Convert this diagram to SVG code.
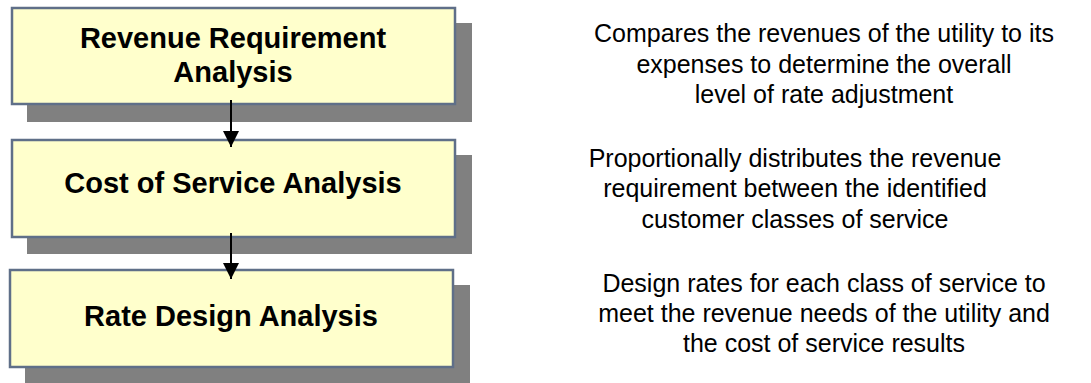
<svg xmlns="http://www.w3.org/2000/svg" width="1091" height="383" viewBox="0 0 1091 383">
<defs>
<style>
.shadow{fill:#808080}
.box{fill:#FFFFCC;stroke:#5F6F88;stroke-width:2.5}
.t{font-family:"Liberation Sans",Arial,sans-serif;font-weight:bold;font-size:29px;fill:#000;text-anchor:middle}
.d{font-family:"Liberation Sans",Arial,sans-serif;font-size:25px;fill:#000;text-anchor:middle}
.c{stroke:#000;stroke-width:2;fill:none}
</style>
<marker id="ah" viewBox="0 0 10 10" refX="10" refY="5" markerWidth="16" markerHeight="16" markerUnits="userSpaceOnUse" orient="auto">
<path d="M0,0 L10,5 L0,10 z" fill="#000"/>
</marker>
</defs>
<rect width="1091" height="383" fill="#fff"/>
<g id="node-revenue">
<rect class="shadow" x="27" y="23" width="445" height="99"/>
<rect class="box" x="12" y="8" width="443" height="96"/>
<text class="t" x="233" y="48">Revenue Requirement</text>
<text class="t" x="233" y="82">Analysis</text>
</g>
<g id="node-cost">
<rect class="shadow" x="27" y="155" width="445" height="99"/>
<rect class="box" x="12" y="140" width="443" height="97"/>
<text class="t" x="233" y="193">Cost of Service Analysis</text>
</g>
<g id="node-rate">
<rect class="shadow" x="25" y="285" width="445" height="98"/>
<rect class="box" x="10" y="270" width="443" height="97"/>
<text class="t" x="231" y="326">Rate Design Analysis</text>
</g>
<g id="desc-1">
<text class="d" x="824" y="42">Compares the revenues of the utility to its</text>
<text class="d" x="824" y="73">expenses to determine the overall</text>
<text class="d" x="824" y="103">level of rate adjustment</text>
</g>
<g id="desc-2">
<text class="d" x="795" y="167">Proportionally distributes the revenue</text>
<text class="d" x="795" y="197">requirement between the identified</text>
<text class="d" x="795" y="228">customer classes of service</text>
</g>
<g id="desc-3">
<text class="d" x="824" y="292">Design rates for each class of service to</text>
<text class="d" x="824" y="322">meet the revenue needs of the utility and</text>
<text class="d" x="824" y="352">the cost of service results</text>
</g>
<g id="connectors">
<line class="c" x1="231" y1="100" x2="231" y2="147" marker-end="url(#ah)"/>
<line class="c" x1="231" y1="233" x2="231" y2="279" marker-end="url(#ah)"/>
</g>
</svg>
